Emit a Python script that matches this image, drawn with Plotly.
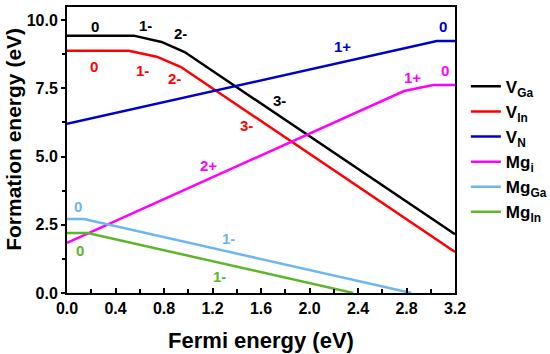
import plotly.graph_objects as go

# Series breakpoints (Fermi energy in eV, formation energy in eV)
vga_x = [0.0, 0.55, 0.78, 0.97, 3.2]
vga_y = [9.43, 9.43, 9.2, 8.83, 2.15]
vin_x = [0.0, 0.51, 0.74, 0.94, 3.2]
vin_y = [8.88, 8.88, 8.66, 8.28, 1.5]
vn_x = [0.0, 3.05, 3.2]
vn_y = [6.2, 9.23, 9.23]
mgi_x = [0.0, 2.78, 3.02, 3.2]
mgi_y = [1.84, 7.4, 7.62, 7.62]
mgga_x = [0.0, 0.14, 2.84]
mgga_y = [2.71, 2.71, 0.0]
mgin_x = [0.0, 0.17, 2.36]
mgin_y = [2.2, 2.2, 0.0]

names = ["V<sub>Ga</sub>", "V<sub>In</sub>", "V<sub>N</sub>",
         "Mg<sub>i</sub>", "Mg<sub>Ga</sub>", "Mg<sub>In</sub>"]
colors = ["#000000", "#FF0000", "#0000CC", "#FF00FF", "#6EB6F0", "#5DB52A"]

# Charge-state labels: (x, y, text, colour index)
label_x = [0.23, 0.65, 0.94, 1.75, 0.22, 0.62, 0.885, 1.48, 2.27, 3.1, 1.17, 2.85, 3.12, 0.09, 1.33, 0.11, 1.26]
label_y = [9.78, 9.8, 9.5, 7.07, 8.3, 8.17, 7.87, 6.15, 9.02, 9.78, 4.69, 7.9, 8.14, 3.16, 2.0, 1.57, 0.62]
label_t = ["0", "1-", "2-", "3-", "0", "1-", "2-", "3-", "1+", "0", "2+", "1+", "0", "0", "1-", "0", "1-"]
label_c = [0, 0, 0, 0, 1, 1, 1, 1, 2, 2, 3, 3, 3, 4, 4, 5, 5]

xticks = [0.0, 0.4, 0.8, 1.2, 1.6, 2.0, 2.4, 2.8, 3.2]
yticks = [0.0, 2.5, 5.0, 7.5, 10.0]

x_title = "Fermi energy (eV)"
y_title = "Formation energy (eV)"

series = [(vga_x, vga_y), (vin_x, vin_y), (vn_x, vn_y),
          (mgi_x, mgi_y), (mgga_x, mgga_y), (mgin_x, mgin_y)]

fig = go.Figure()
for (xs, ys), n, c in zip(series, names, colors):
    fig.add_trace(go.Scatter(x=xs, y=ys, mode="lines", name=n,
                             line=dict(color=c, width=2.5)))

for x, y, t, ci in zip(label_x, label_y, label_t, label_c):
    fig.add_annotation(x=x, y=y, text=t, showarrow=False,
                       font=dict(color=colors[ci], size=15,
                                 family="Liberation Sans, Arial", weight="bold"))

font_b = dict(family="Liberation Sans, Arial", color="black", weight="bold")

# y-axis title (placed slightly above the plot centre, as in the reference)
fig.add_annotation(xref="paper", yref="paper", x=-0.14, y=0.538,
                   xanchor="center", yanchor="middle", textangle=-90,
                   text=y_title, showarrow=False,
                   font=dict(size=21, **font_b))

fig.update_layout(
    width=550, height=354,
    margin=dict(l=67, r=95, t=7, b=61, autoexpand=False),
    paper_bgcolor="white", plot_bgcolor="white",
    font=font_b,
    legend=dict(x=1.028, y=0.784, xanchor="left", yanchor="top",
                font=dict(size=17, **font_b), bgcolor="rgba(0,0,0,0)",
                tracegroupgap=0, itemwidth=30),
    xaxis=dict(range=[0, 3.2], tickvals=xticks, automargin=False,
               ticktext=[f"{v:.1f}" for v in xticks],
               ticks="inside", ticklen=5, tickwidth=2, tickcolor="black",
               minor=dict(dtick=0.2, ticks="inside", ticklen=4, tickwidth=2, tickcolor="black"),
               showline=True, linewidth=2, linecolor="black", mirror=True,
               showgrid=False, zeroline=False,
               tickfont=dict(size=16, **font_b),
               title=dict(text=x_title, font=dict(size=22, **font_b), standoff=16)),
    yaxis=dict(range=[0, 10.48], tickvals=yticks, automargin=False,
               ticktext=[f"{v:.1f}" for v in yticks],
               ticks="outside", ticklen=4, tickwidth=2, tickcolor="black",
               minor=dict(dtick=1.25, ticks="outside", ticklen=3, tickwidth=2, tickcolor="black"),
               showline=True, linewidth=2, linecolor="black", mirror=True,
               showgrid=False, zeroline=False,
               tickfont=dict(size=16, **font_b)),
)

fig.write_html("out.html", config={"displayModeBar": False},
               post_script="document.body.style.margin='0';")
